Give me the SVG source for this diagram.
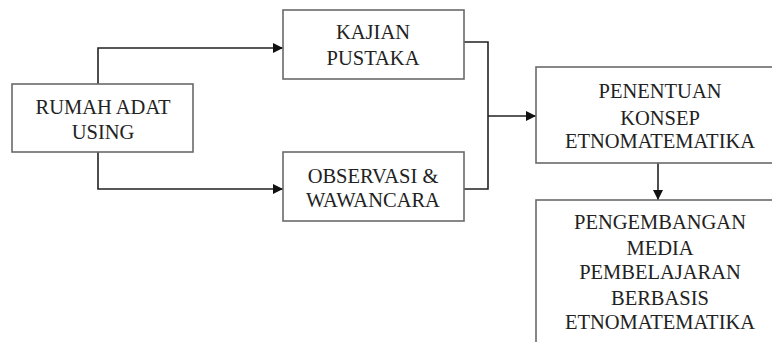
<svg xmlns="http://www.w3.org/2000/svg" width="772" height="342" viewBox="0 0 772 342">
<defs>
<marker id="ah" viewBox="0 0 10 10" refX="10" refY="5" markerWidth="10" markerHeight="10" markerUnits="userSpaceOnUse" orient="auto">
<path d="M0,0 L10,5 L0,10 z" fill="#111"/>
</marker>
<style>
.box{fill:#fff;stroke:#6a6a6a;stroke-width:1.6}
.c{fill:none;stroke:#222;stroke-width:1.6}
</style>
</defs>
<rect width="772" height="342" fill="#fff"/>
<g id="connectors">
<path class="c" d="M98,84 V48 H283" marker-end="url(#ah)"/>
<path class="c" d="M98,152 V189 H283" marker-end="url(#ah)"/>
<path class="c" d="M464,42 H488 V189 H464"/>
<path class="c" d="M488,116 H536" marker-end="url(#ah)"/>
<path class="c" d="M658,163 V200" marker-end="url(#ah)"/>
</g>
<g fill="#222" text-anchor="middle">
<g id="rumah">
<rect class="box" x="12" y="84" width="181" height="68"/>
<text style="font-family:'Liberation Serif',serif;font-size:20.5px" x="103" y="114">RUMAH ADAT</text>
<text style="font-family:'Liberation Serif',serif;font-size:20.5px" x="103" y="139">USING</text>
</g>
<g id="kajian">
<rect class="box" x="283" y="10" width="181" height="69"/>
<text style="font-family:'Liberation Serif',serif;font-size:20.5px" x="373" y="39">KAJIAN</text>
<text style="font-family:'Liberation Serif',serif;font-size:20.5px" x="373" y="65">PUSTAKA</text>
</g>
<g id="observasi">
<rect class="box" x="283" y="152" width="181" height="69"/>
<text style="font-family:'Liberation Serif',serif;font-size:20.5px" x="373" y="183">OBSERVASI &amp;</text>
<text style="font-family:'Liberation Serif',serif;font-size:20.5px" x="373" y="207">WAWANCARA</text>
</g>
<g id="penentuan">
<rect class="box" x="536" y="67" width="248" height="96"/>
<text style="font-family:'Liberation Serif',serif;font-size:20.5px" x="660" y="98">PENENTUAN</text>
<text style="font-family:'Liberation Serif',serif;font-size:20.5px" x="660" y="125">KONSEP</text>
<text style="font-family:'Liberation Serif',serif;font-size:20.5px" x="660" y="148">ETNOMATEMATIKA</text>
</g>
<g id="pengembangan">
<rect class="box" x="536" y="200" width="248" height="160"/>
<text style="font-family:'Liberation Serif',serif;font-size:20.5px" x="660" y="229">PENGEMBANGAN</text>
<text style="font-family:'Liberation Serif',serif;font-size:20.5px" x="660" y="255">MEDIA</text>
<text style="font-family:'Liberation Serif',serif;font-size:20.5px" x="660" y="279">PEMBELAJARAN</text>
<text style="font-family:'Liberation Serif',serif;font-size:20.5px" x="660" y="305">BERBASIS</text>
<text style="font-family:'Liberation Serif',serif;font-size:20.5px" x="660" y="329">ETNOMATEMATIKA</text>
</g>
</g>
</svg>
